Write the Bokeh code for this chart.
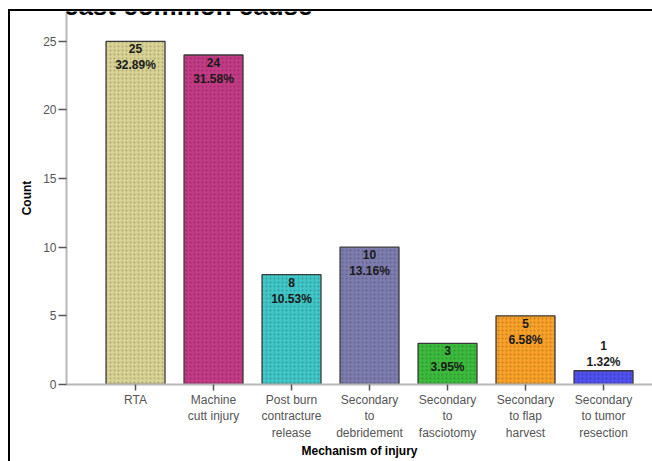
from bokeh.plotting import figure
from bokeh.models import Range1d, FixedTicker, Label, ColumnDataSource
from bokeh.embed import file_html
from bokeh.resources import INLINE
from bokeh.core.properties import value

# ---- data ----
categories = ["RTA", "Machine\ncutt injury", "Post burn\ncontracture\nrelease",
              "Secondary\nto\ndebridement", "Secondary\nto\nfasciotomy",
              "Secondary\nto flap\nharvest", "Secondary\nto tumor\nresection"]
counts = [25, 24, 8, 10, 3, 5, 1]
percents = ["32.89%", "31.58%", "10.53%", "13.16%", "3.95%", "6.58%", "1.32%"]
colors = ["#d8d394", "#c23b84", "#40c6c6", "#7c7cae", "#3cba3c", "#f8a128", "#5050ee"]
y_ticks = [0, 5, 10, 15, 20, 25]
title_text = "the least common cause"

xpos = list(range(len(categories)))
inside = [c >= 2 for c in counts]
src = ColumnDataSource(dict(
    x=xpos, top=counts, color=colors,
    cnt=[str(c) for c in counts], pct=percents,
    cnt_off=[3 if i else -30 for i in inside],
    pct_off=[17 if i else -16 for i in inside],
))

FONT = "Liberation Sans"
W, H = 652, 461

p = figure(width=W, height=H, output_backend="svg", toolbar_location=None,
           x_range=Range1d(-0.885, 6.628), y_range=Range1d(0, 27.17),
           min_border_left=66, min_border_right=0, min_border_top=11, min_border_bottom=75,
           outline_line_color=None, background_fill_color="white",
           border_fill_color="white", border_fill_alpha=0.0)
# left and top edges of the source chart's box, drawn behind the transparent border area
p.styles = {
    "background-color": "white",
    "background-image": "linear-gradient(#000,#000), linear-gradient(#000,#000)",
    "background-size": "2px 452px, 644px 2px",
    "background-position": "8px 9px, 8px 9px",
    "background-repeat": "no-repeat",
}

p.vbar(x="x", top="top", bottom=0, width=0.756, source=src,
       fill_color="color", line_color="#3a3a3a", line_width=1.3,
       hatch_pattern="dot", hatch_color="#000000", hatch_alpha=0.2,
       hatch_scale=4, hatch_weight=1)

p.text(x="x", y="top", text="cnt", source=src, y_offset="cnt_off",
       text_align="center", text_baseline="top", text_font=value(FONT),
       text_font_style="bold", text_font_size="12px", text_color="#1a1a1a")
p.text(x="x", y="top", text="pct", source=src, y_offset="pct_off",
       text_align="center", text_baseline="top", text_font=value(FONT),
       text_font_style="bold", text_font_size="12px", text_color="#1a1a1a")

p.xgrid.grid_line_color = None
p.ygrid.grid_line_color = None

# x axis
xa = p.xaxis[0]
xa.ticker = FixedTicker(ticks=xpos)
xa.major_label_overrides = {i: c for i, c in zip(xpos, categories)}
xa.axis_label = "Mechanism of injury"
xa.axis_label_text_font = FONT
xa.axis_label_text_font_style = "bold"
xa.axis_label_text_font_size = "12px"
xa.axis_label_text_color = "#000000"
xa.axis_label_standoff = 1
xa.major_label_text_font = FONT
xa.major_label_text_font_size = "12px"
xa.major_label_text_color = "#555555"
xa.major_label_standoff = 2
xa.axis_line_color = "#b8b8b8"
xa.axis_line_width = 2
xa.major_tick_line_color = "#555555"
xa.major_tick_line_width = 1.5
xa.major_tick_in = 0
xa.major_tick_out = 6
xa.minor_tick_line_color = None

# y axis
ya = p.yaxis[0]
ya.ticker = FixedTicker(ticks=y_ticks)
ya.axis_label = "Count"
ya.axis_label_text_font = FONT
ya.axis_label_text_font_style = "bold"
ya.axis_label_text_font_size = "12px"
ya.axis_label_text_color = "#000000"
ya.axis_label_standoff = 6
ya.major_label_text_font = FONT
ya.major_label_text_font_size = "12px"
ya.major_label_text_color = "#555555"
ya.major_label_standoff = 2
ya.axis_line_color = "#b8b8b8"
ya.axis_line_width = 2
ya.major_tick_line_color = "#555555"
ya.major_tick_line_width = 1.5
ya.major_tick_in = 0
ya.major_tick_out = 8
ya.minor_tick_line_color = None

# heading from the source page, cut off at the top edge as in the original
p.add_layout(Label(x=10, y=5, x_units="canvas", y_units="canvas", text=title_text,
                   text_font=FONT, text_font_style="bold", text_font_size="26px",
                   text_baseline="alphabetic", text_color="#000000"))

open("out.html", "w").write(file_html(p, INLINE))
